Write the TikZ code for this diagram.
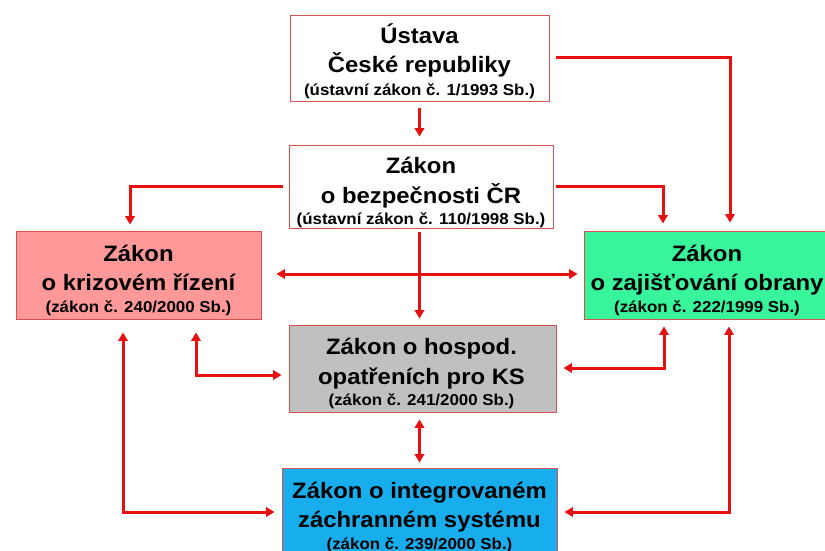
\documentclass[tikz,border=0pt]{standalone}
\usepackage{fontspec}
\setmainfont{Liberation Sans}[FakeStretch=1.07]
\usetikzlibrary{arrows.meta,calc}
\definecolor{arrred}{RGB}{230,16,16}
\definecolor{boxred}{RGB}{215,80,80}
\definecolor{krifill}{RGB}{255,153,153}
\definecolor{obrfill}{RGB}{56,244,154}
\definecolor{hosfill}{RGB}{192,192,192}
\definecolor{intfill}{RGB}{24,174,238}
\newcommand\subtxt[1]{{\fontsize{15.8}{20}\selectfont #1}}
\begin{document}
\begin{tikzpicture}[x=1pt,y=-1pt,
  box/.style={draw=boxred,line width=0.9pt,inner sep=0pt},
  txt/.style={inner sep=0pt,align=center,font=\bfseries\fontsize{22.3}{29.5}\selectfont},
  arr/.style={draw=arrred,line width=3pt,-{Triangle[length=8.5pt,width=9.5pt]}},
  darr/.style={draw=arrred,line width=3pt,{Triangle[length=8.5pt,width=9.5pt]}-{Triangle[length=8.5pt,width=9.5pt]}}]
\useasboundingbox (0,0) rectangle (825,551);
\clip (0,0) rectangle (825,551);

\node[box,fill=white,minimum width=259pt,minimum height=86pt] (ust) at (419.5,58) {};
\node[txt] (ust-t) at ($(ust.center)+(0,3)$)
  {Ústava\\České republiky\\[-7pt]\subtxt{(ústavní zákon č. 1/1993 Sb.)}};
\node[box,fill=white,minimum width=264pt,minimum height=83pt] (bez) at (421,186.5) {};
\node[txt] (bez-t) at ($(bez.center)+(0,6)$)
  {Zákon\\o bezpečnosti ČR\\[-8pt]\subtxt{(ústavní zákon č. 110/1998 Sb.)}};
\node[box,fill=krifill,minimum width=245pt,minimum height=88pt] (kri) at (138.5,275) {};
\node[txt] (kri-t) at ($(kri.center)+(0,5)$)
  {Zákon\\o krizovém řízení\\[-8pt]\subtxt{(zákon č. 240/2000 Sb.)}};
\node[box,fill=obrfill,minimum width=248pt,minimum height=88pt] (obr) at (708,275) {};
\node[txt] (obr-t) at ($(obr.center)+(-1,5)$)
  {Zákon\\o zajišťování obrany\\[-8pt]\subtxt{(zákon č. 222/1999 Sb.)}};
\node[box,fill=hosfill,minimum width=267pt,minimum height=87pt] (hos) at (422.5,368.5) {};
\node[txt] (hos-t) at ($(hos.center)+(-1,5)$)
  {Zákon o hospod.\\opatřeních pro KS\\[-8pt]\subtxt{(zákon č. 241/2000 Sb.)}};
\node[box,fill=intfill,minimum width=275pt,minimum height=96pt] (int) at (419.5,516) {};
\node[txt] (int-t) at ($(int.center)+(0,1)$)
  {Zákon o integrovaném\\záchranném systému\\[-8pt]\subtxt{(zákon č. 239/2000 Sb.)}};

\draw[arr] ($(ust.south)+(0,7)$) -- ($(ust.south |- bez.north)+(0,-8)$);
\draw[arr] ($(ust.east)+(7,0)$) -| ($(obr.north)+(22,-8)$);
\draw[arr] ($(bez.west)+(-6,0)$) -| ($(kri.north)+(-8.5,-6)$);
\draw[arr] ($(bez.east)+(3,0)$) -| ($(obr.north)+(-45,-7)$);
\draw[arr] ($(ust.south |- bez.south)+(0,4)$) -- ($(ust.south |- hos.north)+(0,-6)$);
\draw[darr] ($(kri.east)+(15,-1)$) -- ($(obr.west)+(-6,-1)$);
\draw[darr] ($(kri.south)+(57.5,13)$) |- ($(hos.west)+(-7,6.5)$);
\draw[darr] ($(obr.south)+(-44,7)$) |- ($(hos.east)+(7,-0.5)$);
\draw[darr] ($(ust.south |- hos.south)+(0,7)$) -- ($(ust.south |- int.north)+(0,-5)$);
\draw[darr] ($(kri.south)+(-15.5,13)$) |- ($(int.west)+(-7,-4)$);
\draw[darr] ($(obr.south)+(21,7)$) |- ($(int.east)+(7,-4)$);
\end{tikzpicture}
\end{document}
